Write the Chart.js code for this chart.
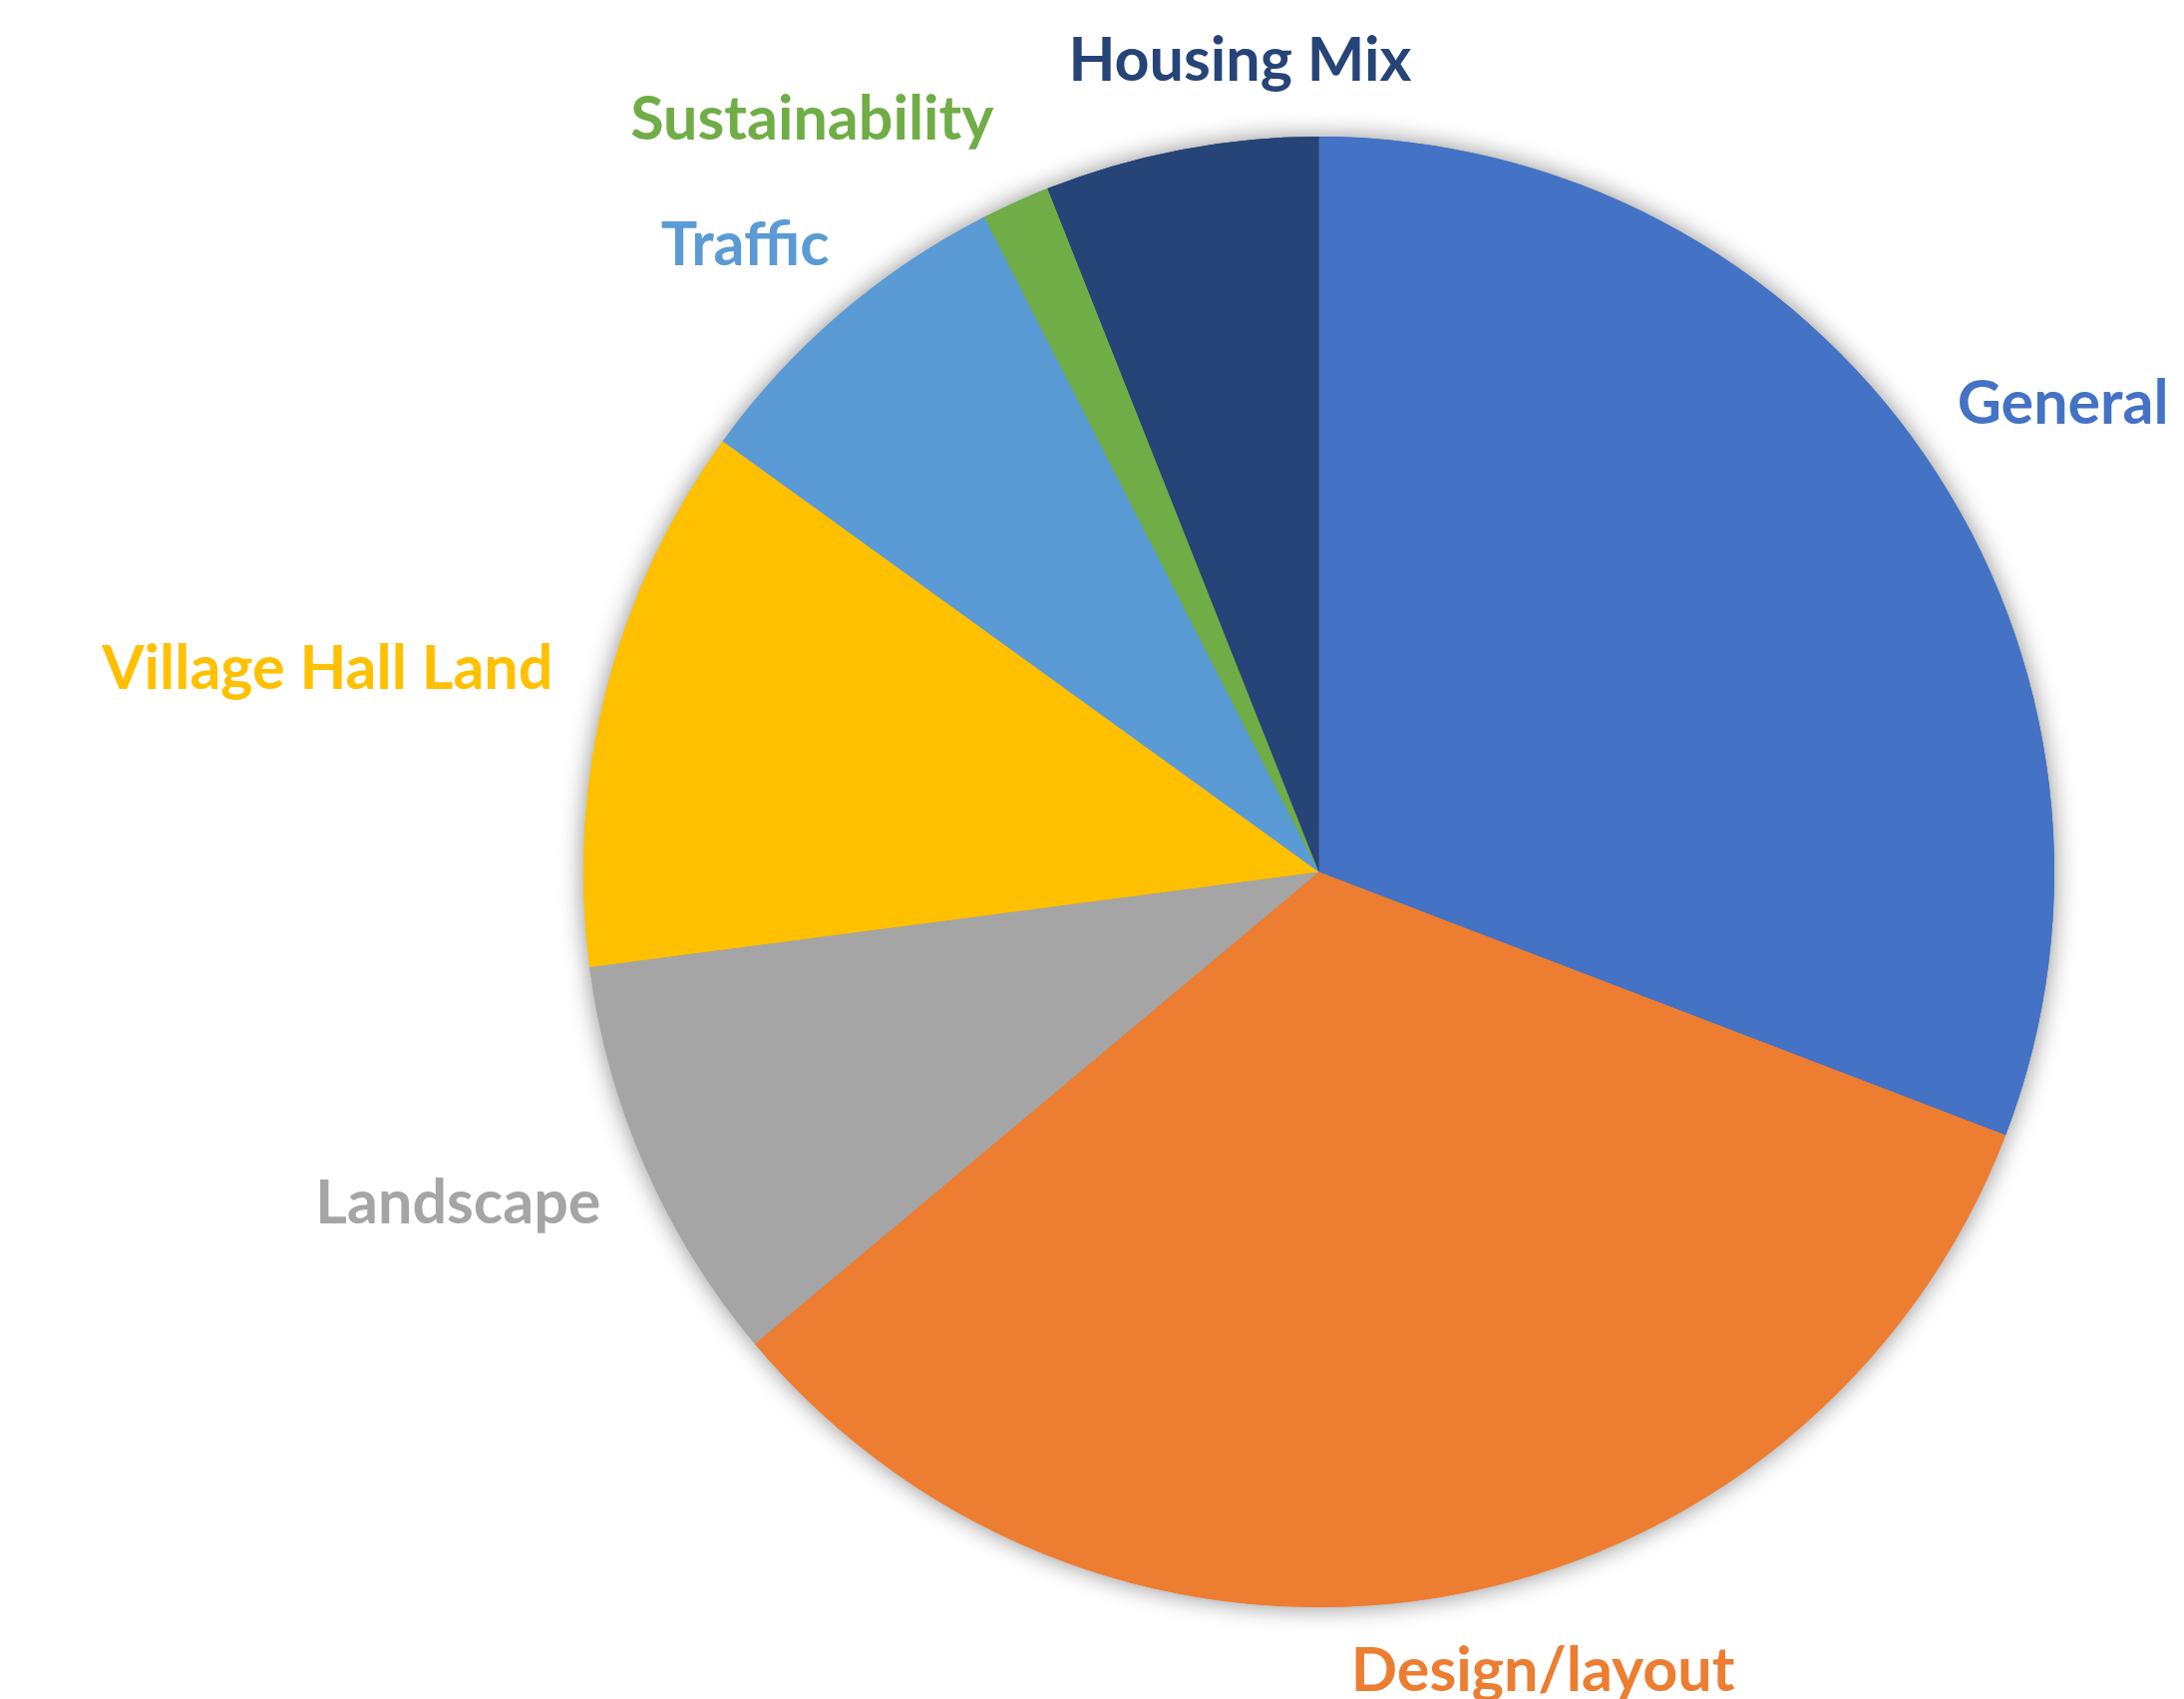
<!DOCTYPE html>
<html>
<head>
<meta charset="utf-8">
<script src="https://cdn.jsdelivr.net/npm/chart.js@4.4.0/dist/chart.umd.min.js"></script>
<style>
  html, body { margin: 0; padding: 0; background: #fff; }
  canvas { display: block; }
</style>
</head>
<body>
<canvas id="pieChart" width="2190" height="1704"></canvas>
<script>
const categories = ['General', 'Design/layout', 'Landscape', 'Village Hall Land', 'Traffic', 'Sustainability', 'Housing Mix'];
const responses = [41, 44, 12, 16, 10, 2, 8];
const sliceColours = ['#4472C4', '#ED7D31', '#A5A5A5', '#FFC000', '#5B9BD5', '#70AD47', '#264478'];

const labelFont = 'bold 61px Lato';
const labelGap = 62;     // pie edge -> label anchor
const labelHeight = 56;

// soft outer shadow under every slice (Excel default pie style)
const sliceShadow = {
  id: 'sliceShadow',
  beforeDatasetsDraw(chart) {
    const ctx = chart.ctx;
    chart.getDatasetMeta(0).data.forEach(arc => {
      ctx.save();
      ctx.shadowColor = 'rgba(0,0,0,0.45)';
      ctx.shadowBlur = 24;
      arc.draw(ctx);
      ctx.restore();
    });
  }
};

// category names outside the pie, coloured like their slice
const outsideLabels = {
  id: 'outsideLabels',
  afterDatasetsDraw(chart) {
    const ctx = chart.ctx;
    const W = chart.width, H = chart.height;
    ctx.save();
    ctx.font = labelFont;

    const boxes = chart.getDatasetMeta(0).data.map((arc, i) => {
      const p = arc.getProps(['x', 'y', 'startAngle', 'endAngle', 'outerRadius'], true);
      const mid = (p.startAngle + p.endAngle) / 2;
      const c = Math.cos(mid), s = Math.sin(mid);
      const w = ctx.measureText(categories[i]).width;
      const R = p.outerRadius + labelGap;
      return {
        i, w, ox: p.x, oy: p.y,
        cx: p.x + R * c + (w / 2) * c,
        cy: p.y + R * s + (labelHeight / 2) * s
      };
    });

    // push overlapping labels apart sideways
    const pad = 25;
    for (let a = 0; a < boxes.length; a++) {
      for (let b = a + 1; b < boxes.length; b++) {
        const A = boxes[a], B = boxes[b];
        const ovX = (A.w + B.w) / 2 + pad - Math.abs(A.cx - B.cx);
        const ovY = labelHeight + 10 - Math.abs(A.cy - B.cy);
        if (ovX > 0 && ovY > 0) {
          const left = A.cx < B.cx ? A : B;
          const right = left === A ? B : A;
          left.cx -= ovX / 2 + pad;
          right.cx += ovX / 2 + pad;
        }
      }
    }

    // keep labels on the canvas, sliding round at the same distance
    boxes.forEach(bx => {
      const dx = bx.cx - bx.ox, dy = bx.cy - bx.oy;
      const d = Math.hypot(dx, dy);
      let ny = null;
      if (bx.cy + labelHeight / 2 > H) ny = H - labelHeight / 2;
      if (bx.cy - labelHeight / 2 < 0) ny = labelHeight / 2;
      if (ny !== null) {
        const ndy = ny - bx.oy;
        const ndx = Math.sqrt(Math.max(d * d - ndy * ndy, 0));
        bx.cx = bx.ox + Math.sign(dx || 1) * ndx;
        bx.cy = ny;
      }
      bx.cx = Math.min(Math.max(bx.cx, bx.w / 2), W - bx.w / 2);
    });

    ctx.textAlign = 'center';
    ctx.textBaseline = 'middle';
    boxes.forEach(bx => {
      ctx.fillStyle = sliceColours[bx.i];
      ctx.fillText(categories[bx.i], bx.cx, bx.cy);
    });
    ctx.restore();
  }
};

new Chart(document.getElementById('pieChart').getContext('2d'), {
  type: 'pie',
  data: {
    labels: categories,
    datasets: [{
      data: responses,
      backgroundColor: sliceColours,
      borderWidth: 0
    }]
  },
  options: {
    responsive: false,
    devicePixelRatio: 1,
    animation: false,
    layout: { padding: { left: 585, right: 130, top: 137, bottom: 92 } },
    plugins: {
      legend: { display: false },
      tooltip: { enabled: false }
    }
  },
  plugins: [sliceShadow, outsideLabels]
});
</script>
</body>
</html>
